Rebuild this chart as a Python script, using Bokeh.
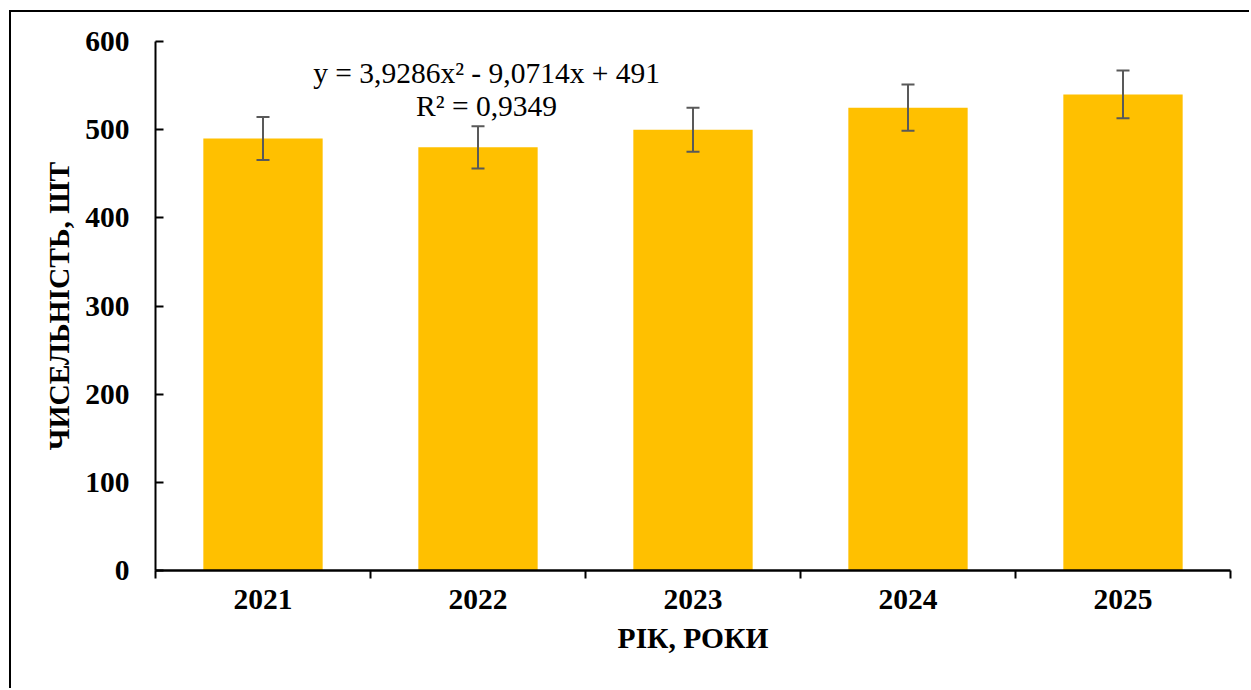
from bokeh.plotting import figure
from bokeh.models import ColumnDataSource, Range1d, FixedTicker, Whisker, TeeHead, Label
from bokeh.embed import file_html
from bokeh.resources import INLINE

# ---- data ----
years = ["2021", "2022", "2023", "2024", "2025"]
counts = [490, 480, 500, 525, 540]
errors = [24.5, 24.0, 25.0, 26.25, 27.0]
y_ticks = [0, 100, 200, 300, 400, 500, 600]
equation_text = "y = 3,9286x\u00b2 - 9,0714x + 491"
r2_text = "R\u00b2 = 0,9349"
y_title = "ЧИСЕЛЬНІСТЬ, ШТ"
x_title = "РІК, РОКИ"

xs = list(range(1, len(years) + 1))
src = ColumnDataSource(dict(
    x=xs,
    top=counts,
    upper=[c + e for c, e in zip(counts, errors)],
    lower=[c - e for c, e in zip(counts, errors)],
))

W, H = 1240, 678
FONT = "Liberation Serif"
FS = "29.5px"

p = figure(width=W, height=H, output_backend="svg", toolbar_location=None,
           x_range=Range1d(0.5, len(years) + 0.5), y_range=Range1d(0, 600),
           min_border_left=144, min_border_right=21, min_border_top=29,
           min_border_bottom=120)
p.margin = (10, 0, 0, 9)
p.styles = {"border-left": "2px solid black", "border-top": "2px solid black"}
p.outline_line_color = None
p.xgrid.visible = False
p.ygrid.visible = False
p.background_fill_color = "white"
p.border_fill_color = "white"

p.vbar(x="x", top="top", bottom=0, width=0.555, source=src,
       fill_color="#FFC000", line_color=None)

wh = Whisker(base="x", upper="upper", lower="lower", source=src,
             line_color="#595959", line_width=2, level="overlay",
             upper_head=TeeHead(size=13, line_color="#595959", line_width=2),
             lower_head=TeeHead(size=13, line_color="#595959", line_width=2))
p.add_layout(wh)

# x axis
xa = p.xaxis[0]
xa.ticker = FixedTicker(ticks=xs, minor_ticks=[x - 0.5 for x in xs] + [xs[-1] + 0.5])
xa.major_label_overrides = {x: y for x, y in zip(xs, years)}
xa.major_tick_out = 0
xa.major_tick_in = 0
xa.minor_tick_out = 8
xa.minor_tick_in = 0
xa.minor_tick_line_color = "black"
xa.minor_tick_line_width = 2
xa.axis_line_width = 2.5
xa.axis_line_color = "black"
xa.major_label_text_font = FONT
xa.major_label_text_font_style = "bold"
xa.major_label_text_font_size = FS
xa.major_label_text_color = "black"
xa.major_label_standoff = 11
xa.axis_label = x_title
xa.axis_label_text_font = FONT
xa.axis_label_text_font_style = "bold"
xa.axis_label_text_font_size = FS
xa.axis_label_text_color = "black"
xa.axis_label_standoff = 10

# y axis
ya = p.yaxis[0]
ya.ticker = FixedTicker(ticks=y_ticks)
ya.major_tick_in = 8
ya.major_tick_out = 0
ya.major_tick_line_width = 2
ya.minor_tick_line_color = None
ya.axis_line_width = 2
ya.axis_line_color = "black"
ya.major_label_text_font = FONT
ya.major_label_text_font_style = "bold"
ya.major_label_text_font_size = FS
ya.major_label_text_color = "black"
ya.major_label_standoff = 26
ya.axis_label = y_title
ya.axis_label_text_font = FONT
ya.axis_label_text_font_style = "bold"
ya.axis_label_text_font_size = FS
ya.axis_label_text_color = "black"
ya.axis_label_standoff = 7

# trendline equation
p.add_layout(Label(x=2.04, y=564, text=equation_text, text_align="center",
                   text_baseline="alphabetic", text_font=FONT,
                   text_font_size=FS, text_color="black"))
p.add_layout(Label(x=2.04, y=527, text=r2_text, text_align="center",
                   text_baseline="alphabetic", text_font=FONT,
                   text_font_size=FS, text_color="black"))

open("out.html", "w").write(file_html(p, INLINE))
